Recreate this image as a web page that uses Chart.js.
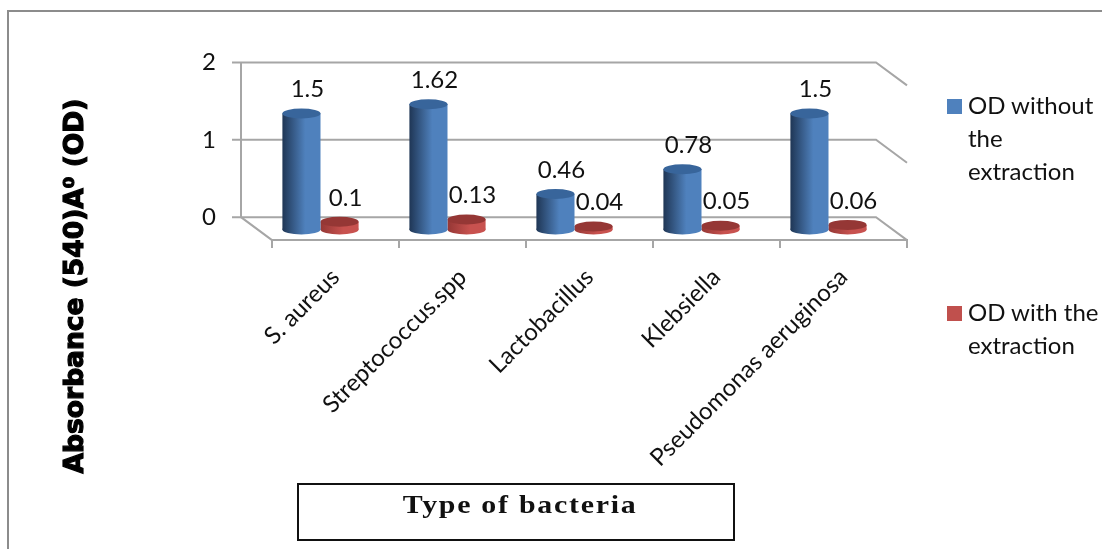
<!DOCTYPE html>
<html>
<head>
<meta charset="utf-8">
<style>
    html, body { margin: 0; padding: 0; background: #fff; overflow: hidden; }
    #wrap { position: relative; width: 1102px; height: 549px; overflow: hidden; }
    canvas { position: absolute; left: 0; top: 0; }
    #frame { position: absolute; left: 7px; top: 10px; width: 1200px; height: 700px; border: 2px solid #8c8c8c; }
    #xTitle {
        position: absolute; left: 297px; top: 483px; width: 434px; height: 54px;
        border: 2px solid #111; text-align: center; padding-left: 0;
        font: bold 26px "Liberation Serif"; letter-spacing: 1.5px; line-height: 40px; color: #111;
    }
    #xTitle span { display: inline-block; transform: translateX(4px) scaleX(1.15); }
    .legendItem { position: absolute; left: 947px; width: 166px; font: 24px Lato; line-height: 33px; color: #111; padding-left: 21px; box-sizing: border-box; }
    .legendItem i { position: absolute; left: 0; top: 11px; width: 15px; height: 15px; }
</style>
</head>
<body>
<div id="wrap">
    <div id="frame"></div>
    <canvas id="chart" width="1102" height="549"></canvas>
    <div id="xTitle"><span>Type of bacteria</span></div>
    <div id="legend"></div>
</div>
<script src="https://cdn.jsdelivr.net/npm/chart.js@4"></script>
<script>
const categories = ["S. aureus", "Streptococcus.spp", "Lactobacillus", "Klebsiella", "Pseudomonas aeruginosa"];
const withoutExtraction = [1.5, 1.62, 0.46, 0.78, 1.5];
const withExtraction = [0.1, 0.13, 0.04, 0.05, 0.06];
const seriesNames = ["OD without the extraction", "OD with the extraction"];
const yTicks = [0, 1, 2];
const yTitle = "Absorbance (540)A⁰ (OD)";

const textColor = "#111";
const gridColor = "#a6a6a6";
const depthX = 31, depthY = 23; // floor depth of the fake 3D box
const barShift = -15;           // bars stand in the middle of the floor

const cylinderColors = [
    { dark: "#1f3655", light: "#4f81bd", top: "#38659b" },
    { dark: "#953735", light: "#c8524f", top: "#953735" },
];

function sideGradient(ctx, left, w, colors) {
    const g = ctx.createLinearGradient(left, 0, left + w, 0);
    g.addColorStop(0, colors.dark);
    g.addColorStop(0.6, colors.light);
    g.addColorStop(1, colors.light);
    return g;
}

function barFill(context) {
    const colors = cylinderColors[context.datasetIndex];
    const x = context.chart.scales.x;
    if (!x || !x.width) return colors.light;
    const w = x.width / categories.length * 0.3;
    const mid = x.getPixelForValue(context.dataIndex);
    const left = context.datasetIndex === 0 ? mid - w : mid;
    return sideGradient(context.chart.ctx, left, w, colors);
}

// back wall, side lines and floor of the 3D box, round ends of the bars
const boxPlugin = {
    id: "box",
    beforeDatasetsDraw(chart) {
        const { ctx, chartArea, scales } = chart;
        const front = chartArea.left, right = chartArea.right;
        const back = front - depthX, backRight = right - depthX;
        ctx.save();
        ctx.strokeStyle = gridColor;
        ctx.lineWidth = 2;
        yTicks.forEach((v) => {
            const y = scales.y.getPixelForValue(v);
            ctx.beginPath();
            ctx.moveTo(back - 9, y);
            ctx.lineTo(backRight, y);
            ctx.lineTo(right, y + depthY);
            ctx.stroke();
        });
        const y0 = scales.y.getPixelForValue(0);
        const y2 = scales.y.getPixelForValue(2);
        ctx.beginPath();
        ctx.moveTo(back, y2);
        ctx.lineTo(back, y0);
        ctx.lineTo(front, y0 + depthY);
        ctx.stroke();
        ctx.restore();
        ctx.save();
        ctx.translate(barShift, 0);
    },
    beforeDatasetDraw(chart, args) {
        const { ctx } = chart;
        const colors = cylinderColors[args.index];
        args.meta.data.forEach((el) => {
            ctx.fillStyle = sideGradient(ctx, el.x - el.width / 2, el.width, colors);
            ctx.beginPath();
            ctx.ellipse(el.x, el.base, el.width / 2, 5, 0, 0, Math.PI * 2);
            ctx.fill();
        });
    },
    afterDatasetDraw(chart, args) {
        const { ctx } = chart;
        const colors = cylinderColors[args.index];
        args.meta.data.forEach((el) => {
            ctx.fillStyle = colors.top;
            ctx.beginPath();
            ctx.ellipse(el.x, el.y, el.width / 2, 5, 0, 0, Math.PI * 2);
            ctx.fill();
        });
    },
    afterDatasetsDraw(chart) {
        const { ctx } = chart;
        ctx.textAlign = "center";
        ctx.textBaseline = "middle";
        ctx.font = "24px Lato";
        ctx.fillStyle = textColor;
        chart.data.datasets.forEach((ds, d) => {
            chart.getDatasetMeta(d).data.forEach((el, i) => {
                ctx.fillText(String(ds.data[i]), el.x + 6, el.y - 24);
            });
        });
        ctx.restore();
    },
    afterDraw(chart) {
        // y title is heavier than any bold font here, so stroke it too
        const { ctx } = chart;
        ctx.save();
        ctx.translate(76, 286);
        ctx.rotate(-Math.PI / 2);
        ctx.textAlign = "center";
        ctx.textBaseline = "middle";
        ctx.font = "bold 26.5px 'DejaVu Sans'";
        ctx.fillStyle = "#000";
        ctx.strokeStyle = "#000";
        ctx.lineWidth = 1.2;
        ctx.fillText(yTitle, 0, 0);
        ctx.strokeText(yTitle, 0, 0);
        ctx.restore();
    },
};

new Chart(document.getElementById("chart"), {
    type: "bar",
    data: {
        labels: categories,
        datasets: [
            { label: seriesNames[0], data: withoutExtraction, yAxisID: "yBars", backgroundColor: barFill },
            { label: seriesNames[1], data: withExtraction, yAxisID: "yBars", backgroundColor: barFill },
        ],
    },
    options: {
        responsive: false,
        animation: false,
        devicePixelRatio: 1,
        categoryPercentage: 0.6,
        barPercentage: 1,
        layout: { padding: { top: 51, bottom: 0, right: 195, left: 101 } },
        plugins: {
            legend: { display: false },
            tooltip: { enabled: false },
        },
        scales: {
            x: {
                afterFit: (s) => { s.height = 309; },
                grid: { drawOnChartArea: false, drawTicks: true, tickLength: 8, color: gridColor, lineWidth: 2 },
                border: { color: gridColor, width: 2 },
                ticks: {
                    color: textColor,
                    font: { family: "Lato", size: 24 },
                    minRotation: 45,
                    maxRotation: 45,
                    padding: 15,
                    autoSkip: false,
                },
            },
            y: {
                min: -0.295,
                max: 2,
                afterBuildTicks: (s) => { s.ticks = yTicks.map((v) => ({ value: v })); },
                afterFit: (s) => { s.width = 171; },
                grid: { display: false },
                border: { display: false },
                ticks: { color: textColor, font: { family: "Lato", size: 24 }, padding: 48 },
            },
            yBars: {
                display: false,
                min: -0.135,
                max: 2.16,
            },
        },
    },
    plugins: [boxPlugin],
});

// legend on the right, as html because the wrapped labels are far apart
const legendTops = [88, 295];
const legendColors = ["#4f81bd", "#c0504d"];
seriesNames.forEach((name, i) => {
    const item = document.createElement("div");
    item.className = "legendItem";
    item.style.top = legendTops[i] + "px";
    item.innerHTML = `<i style="background:${legendColors[i]}"></i>${name}`;
    document.getElementById("legend").appendChild(item);
});
</script>
</body>
</html>
